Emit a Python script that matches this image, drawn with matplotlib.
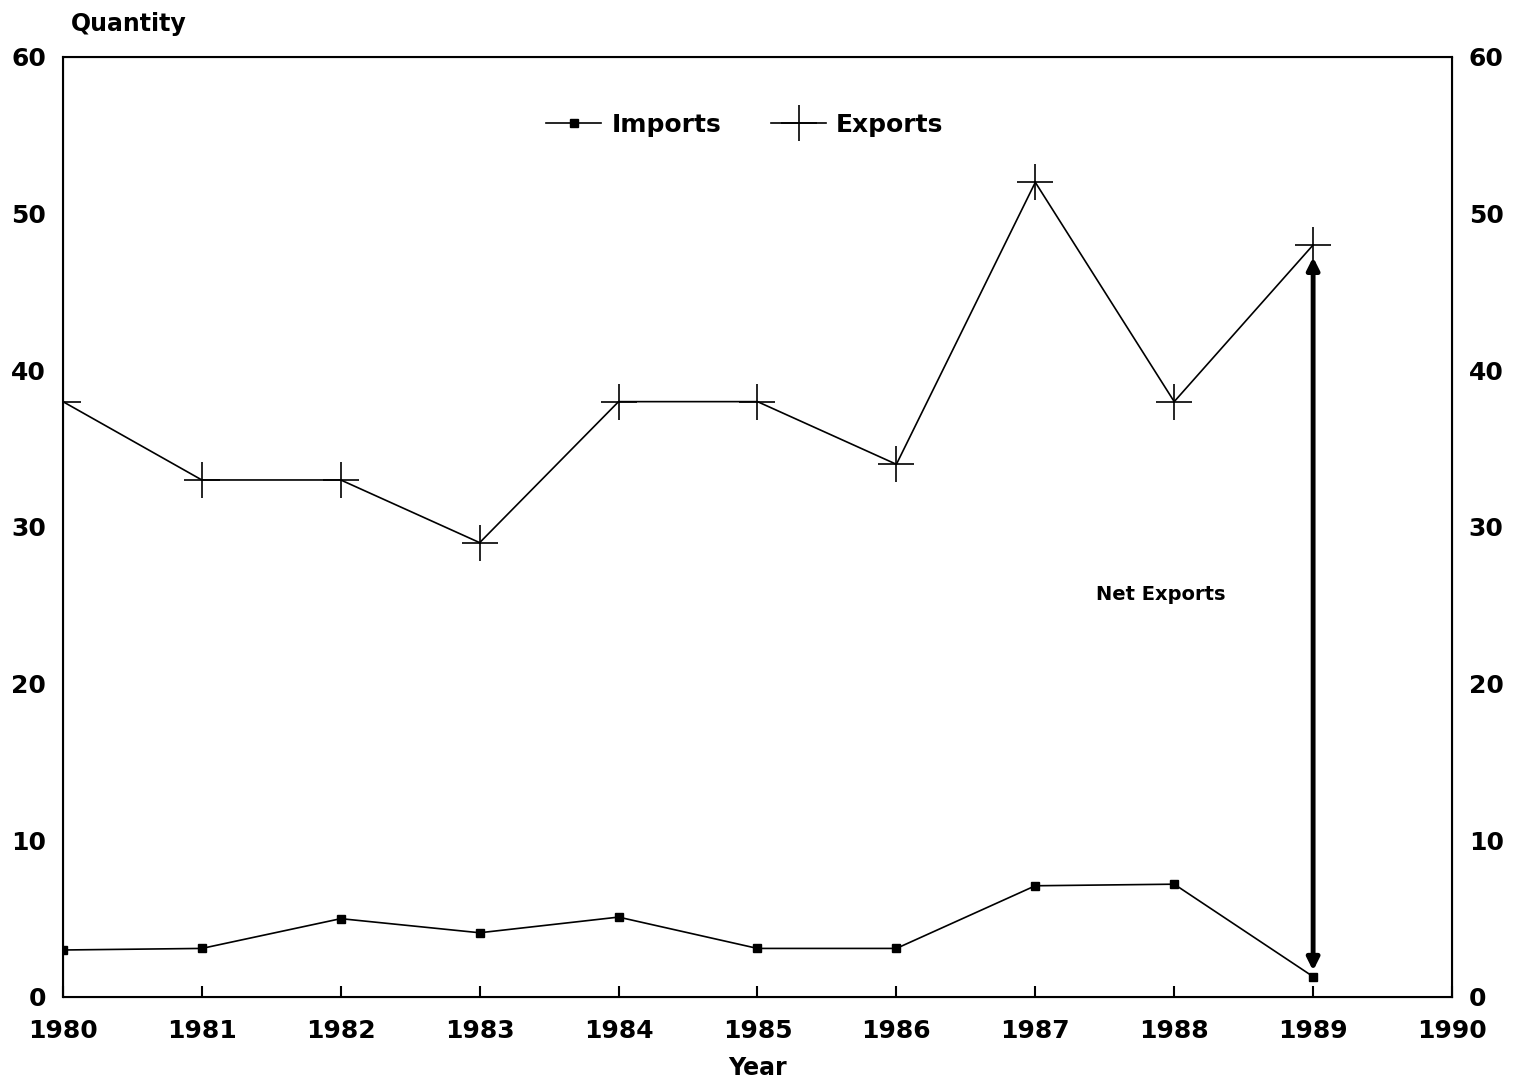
import numpy as np
import matplotlib.pyplot as plt

years = [1980, 1981, 1982, 1983, 1984, 1985, 1986, 1987, 1988, 1989]
imports = [3.0, 3.1, 5.0, 4.1, 5.1, 3.1, 3.1, 7.1, 7.2, 1.3]
exports = [38, 33, 33, 29, 38, 38, 34, 52, 38, 48]

plt.rcParams['font.family'] = ['DejaVu Sans']
plt.rcParams['font.weight'] = 'bold'

fig = plt.figure(figsize=(15.13, 10.87), dpi=100)
ax = fig.add_axes([0.0416, 0.0828, 0.9181, 0.8648])

ax.plot(years, imports, color='black', lw=1.2, marker='s', ms=6, mfc='black', label='Imports')
ax.plot(years, exports, color='black', lw=1.2, marker='+', ms=26, mew=1.2, label='Exports')

# net exports arrow for 1989
ax.annotate('', xy=(years[-1], exports[-1] - 0.6), xytext=(years[-1], imports[-1] + 0.2),
            arrowprops=dict(arrowstyle='<|-|>', lw=3.5, color='black', mutation_scale=18))
ax.text(1987.9, 25.7, 'Net Exports', fontsize=14, fontweight='bold', ha='center', va='center')

ax.set_xlim(1980, 1990)
ax.set_ylim(0, 60)
ax.set_xticks(range(1980, 1991))
ax.set_yticks(range(0, 61, 10))
ax.tick_params(axis='x', direction='in', length=8, width=1.5, labelsize=18, pad=16)
ax.tick_params(axis='y', direction='in', length=0, labelsize=18, pad=12)
for s in ax.spines.values():
    s.set_linewidth(1.5)

ax2 = ax.twinx()
ax2.set_ylim(0, 60)
ax2.set_yticks(range(0, 61, 10))
ax2.tick_params(axis='y', direction='in', length=0, labelsize=18, pad=12)

ax.set_xlabel('Year', fontsize=17, fontweight='bold', labelpad=9)
fig.text(0.085, 0.978, 'Quantity', fontsize=17, fontweight='bold', ha='center', va='center')

leg = ax.legend(loc='center', bbox_to_anchor=(0.491, 0.928), ncol=2, frameon=False,
                fontsize=18, handlelength=2.2, columnspacing=2.0, handletextpad=0.4)

plt.savefig('out.png', dpi=100)
